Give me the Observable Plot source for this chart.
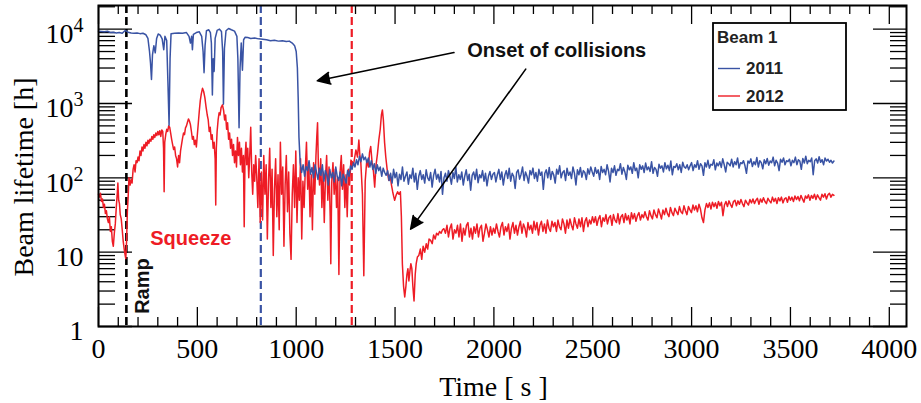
<!DOCTYPE html>
<html><head><meta charset="utf-8">
<script src="https://cdn.jsdelivr.net/npm/d3@7"></script>
<script src="https://cdn.jsdelivr.net/npm/@observablehq/plot@0.6"></script>
<style>
body{margin:0;background:#fff}
#wrap{position:relative;width:921px;height:403px}
#legend{position:absolute;left:712px;top:22px}
</style></head>
<body><div id="wrap"></div>
<script>
// ---- tick values ----
const xMajor = [0, 500, 1000, 1500, 2000, 2500, 3000, 3500, 4000];
const xMinor = [100,200,300,400,600,700,800,900,1100,1200,1300,1400,1600,1700,1800,1900,2100,2200,2300,2400,2600,2700,2800,2900,3100,3200,3300,3400,3600,3700,3800,3900];
const yMajor = [1, 10, 100, 1000, 10000];
const yMajorLabels = ["1", "10", "10^2", "10^3", "10^4"];
const yMinor = [2,3,4,5,6,7,8,9,20,30,40,50,60,70,80,90,200,300,400,500,600,700,800,900,2000,3000,4000,5000,6000,7000,8000,9000,20000];

// ---- phase markers (time in s) ----
const rampLine = [141];
const squeeze2011Line = [821];
const squeeze2012Line = [1281];

// ---- Beam 1, 2011, ramp & squeeze: [time s, lifetime h] ----
const blue2011Early = [
[0,9400],[15,9300],[30,9200],[45,9350],[60,9000],[75,9100],[90,8900],[105,9000],[120,8800],[135,9600],[150,9100],[165,8900],[180,8800],[195,8900],[210,8700],[225,8800],[240,8400],[250,7500],[258,5000],[263,3500],[268,2100],[273,4500],[280,6000],[287,4800],[294,7500],[302,8600],[312,8300],[322,7400],[330,5300],[336,8000],[345,7000],[351,2000],[357,510],[362,4000],[367,8700],[385,8800],[405,8900],[425,8800],[445,9000],[458,8000],[465,6500],[471,8000],[475,5300],[480,8500],[495,9000],[510,9200],[522,8000],[529,5000],[534,2600],[539,6000],[546,9500],[558,9800],[566,9000],[571,6500],[576,1300],[580,4000],[585,2700],[590,7500],[600,9600],[612,10000],[622,9300],[628,5000],[632,980],[637,5500],[645,9500],[658,10200],[672,9800],[688,9400],[700,8000],[705,4000],[711,470],[716,3000],[722,6500],[728,2800],[734,7200],[742,7800],[755,7700],[770,7500],[790,7600],[810,7400],[830,7300],[850,7200],[870,7000],[890,7100],[910,6900],[930,7000],[950,6800],[965,6900],[980,6500],[992,6000],[1000,5000],[1006,3000],[1010,1200],[1014,350]
];
// ---- Beam 1, 2011, after the drop: samples evenly spaced from 1020 s to 3720 s (lifetime h) ----
const blueBandStart = 1020, blueBandEnd = 3720;
const blueBand = [
160,118,150,105,142,125,170,112,138,100,150,
120,95,135,108,150,90,125,110,80,130,100,118,88,140,105,92,120,78,112,98,85,
125,105,145,130,160,140,175,150,195,165,210,175,190,
160,185,140,170,130,155,115,150,125,140,105,135,118,
108,125,92,115,85,130,100,118,78,112,95,140,90,105,120,82,110,98,135,88,115,70,105,125,95,110,85,128,100,92,118,75,108,130,96,112,88,122,60,100,115,90,125,105,82,118,98,140,88,110,95,120,80,105,128,92,112,68,108,120,95,130,86,110,100,125,90,115,78,105,122,95,112,
118,88,110,130,95,120,80,108,125,98,135,90,115,105,72,118,128,96,112,140,92,120,105,85,125,110,135,98,118,90,130,108,120,70,115,128,100,138,95,122,110,85,130,112,145,100,118,125,92,135,108,120,98,140,115,80,128,110,138,102,125,118,95,132,112,140,
120,105,138,115,128,95,142,118,130,110,150,122,88,135,118,145,108,130,125,155,112,138,120,95,148,128,140,115,160,125,135,100,150,130,145,118,158,128,140,122,165,115,138,130,105,152,135,145,120,160,132,148,125,168,110,142,138,155,128,150,118,162,140,135,150,128,
145,160,125,150,138,170,130,155,145,108,160,140,172,135,152,148,175,128,158,145,165,138,180,150,120,162,155,145,178,140,165,150,185,135,160,155,170,145,115,168,158,180,142,165,150,188,140,170,160,132,175,155,182,148,168,160,190,145,172,158,125,178,162,185,150,170,
165,178,145,172,160,190,150,175,168,130,182,158,195,155,172,165,185,110,170,180,158,192,162,175,150,185,168,178,162,172,158,168
];

// ---- Beam 1, 2012, up to 1747 s: [time s, lifetime h] ----
const red2012Early = [
[0,60],[5,55],[10,62],[15,48],[20,52],[25,40],[30,44],[35,33],[40,36],[45,28],[50,25],[55,30],[60,19],[65,22],[70,14],[75,12],[80,18],[85,24],[90,40],[95,62],[98,85],[102,50],[106,45],[110,32],[115,28],[120,20],[125,14],[130,11],[135,9],[138,8.2],[142,14],[146,35],[150,55],[154,100],[160,80],[165,95],[170,85],[175,130],[180,150],[185,120],[190,170],[195,160],[200,190],[205,170],[210,230],[215,200],[220,260],[225,230],[230,280],[235,250],[240,300],[245,270],[250,320],[255,290],[260,330],[265,310],[270,360],[275,330],[280,380],[285,350],[290,400],[295,370],[300,420],[305,380],[310,430],[315,360],[320,440],[325,420],[329,250],[332,65],[335,300],[340,380],[345,450],[350,420],[355,500],[360,480],[365,400],[370,330],[375,280],[380,240],[385,260],[390,200],[395,180],[400,140],[405,200],[410,160],[415,230],[420,280],[425,340],[430,400],[435,380],[440,470],[445,500],[450,560],[455,620],[460,580],[465,520],[470,420],[475,330],[480,360],[485,280],[490,320],[495,260],[500,380],[505,550],[510,800],[515,1100],[520,1350],[526,1600],[532,1450],[538,1200],[544,900],[550,700],[555,600],[560,420],[565,480],[570,330],[575,380],[580,250],[585,300],[590,180],[593,43],[596,250],[600,420],[605,600],[610,750],[615,700],[620,880],[627,960],[633,800],[638,600],[643,700],[648,450],[653,550],[658,330],[663,400],[668,250],[673,330],[678,200],[683,280],[688,160],[693,230],[698,140],[703,350],[708,200],[713,300],[718,150],[723,250],[728,120],[733,200],[737,22],[741,180],[746,300],[750,150],[755,250],[760,100],[765,200],[770,480],[775,120],[780,60],[785,150],[790,90],[795,200],
[800,110],[806,40],[812,180],[818,25],[824,120],[830,27],[836,200],[842,60],[848,150],[854,15],[860,90],[866,250],[872,40],[878,130],[884,9],[890,70],[896,180],[902,30],[908,110],[914,20],[920,300],[926,60],[932,140],[938,12],[944,80],[950,200],[956,35],[962,120],[968,18],[974,8],[980,60],[986,150],[992,40],[998,230],[1004,25],[1010,100],[1016,50],[1022,180],[1028,15],[1034,90],[1040,40],[1046,130],[1052,300],[1058,70],[1064,150],[1070,30],[1076,110],[1082,20],[1088,160],[1094,60],[1100,200],[1104,350],[1108,550],[1112,150],[1118,80],[1124,180],[1130,40],[1136,120],[1142,25],[1148,100],[1154,200],[1160,50],[1166,140],[1172,30],[1175,7],[1180,90],[1186,160],[1192,60],[1198,130],[1204,40],[1210,100],[1216,5],[1222,120],[1228,200],[1234,70],[1240,150],[1246,40],[1252,110],[1258,30],[1264,130],[1270,80],
[1277,173],[1290,150],[1302,237],[1310,190],[1317,323],[1322,200],[1327,158],[1335,60],[1342,4.8],[1349,90],[1357,173],[1365,140],[1371,220],[1377,264],[1384,160],[1391,120],[1397,75],[1404,150],[1411,210],[1418,323],[1425,450],[1431,700],[1436,820],[1441,600],[1447,300],[1453,192],[1460,130],[1468,93],[1475,110],[1482,80],[1488,65],[1494,55],[1498,50],[1505,58],[1513,65],[1520,60],[1527,65],[1532,30],[1537,7],[1543,3.5],[1549,2.5],
[1555,3.5],[1560,5],[1565,6],[1570,4.1],[1575,5.5],[1580,7],[1585,6],[1590,3.5],[1596,2.2],[1602,5],[1607,7],[1613,8.6],[1620,9],[1628,11],[1635,8],[1642,12],[1650,10],[1658,13],[1665,11],[1672,15],[1680,14.4],[1688,13],[1695,17],[1703,15],[1710,18],[1718,17],[1725,19],[1733,18],[1740,20],[1747,20.7]
];
// ---- Beam 1, 2012, slow recovery: samples evenly spaced from 1755 s to 3720 s (lifetime h) ----
const redBandStart = 1755, redBandEnd = 3720;
const redBand = [
18,23,16,21,24,15,20,18,23,16,24,14,21,17,23,25,16,21,15,22,18,24,16,21,23,14,18,24,20,16,22,17,21,
18,24,19,16,22,25,17,22,19,24,15,21,25,18,23,17,22,26,18,24,21,16,25,20,23,18,26,20,25,17,23,26,19,24,18,27,21,19,26,22,
25,19,27,22,20,28,24,18,27,21,28,23,20,29,24,21,28,22,29,19,26,29,22,27,24,30,
25,30,23,28,31,22,29,26,32,24,29,31,23,32,27,25,33,24,30,32,25,33,27,31,24,34,28,33,26,31,34,27,32,
29,35,30,27,36,31,28,37,32,29,38,33,28,37,32,39,33,30,40,34,31,39,35,32,41,35,33,42,36,32,41,37,34,43,37,42,35,44,38,
29,25,37,45,40,46,38,47,41,46,39,48,42,47,31,43,48,41,49,44,40,48,50,42,49,44,51,45,41,50,46,43,51,46,
52,45,50,53,44,52,47,54,48,45,53,49,46,55,48,53,45,54,49,55,46,52,54,47,56,50,
55,48,57,51,56,49,58,52,47,57,53,59,50,58,53,60,51,59,54,50,60,55,61,52,59,62,55,60,58
];

const band = (vals, t0, t1) => vals.map((v, i) => [t0 + i * (t1 - t0) / (vals.length - 1), v]);
const blue2011 = blue2011Early.concat(band(blueBand, blueBandStart, blueBandEnd));
const red2012 = red2012Early.concat(band(redBand, redBandStart, redBandEnd));

// ---- annotations ----
const arrows = [
  {x1: 1798, y1: 4840, x2: 1107, y2: 2020},
  {x1: 2161, y1: 2900, x2: 1579, y2: 20.4}
];
const onsetLabel = [{t: 2318, v: 5100, text: "Onset of collisions"}];
const squeezeLabel = [{t: 467, v: 15, text: "Squeeze"}];
const rampLabel = [{t: 224, v: 3.5, text: "Ramp"}];
const legendTitle = "Beam 1";
const seriesNames = ["2011", "2012"];
const BLUE = "#3953a4", RED = "#ee1c25";

const serif = "'Liberation Serif','Times New Roman',serif";
const sans = "'Liberation Sans',Arial,Helvetica,sans-serif";
const tk = {stroke: "#000", strokeWidth: 1.3};

const chart = Plot.plot({
  width: 921, height: 403,
  marginLeft: 98, marginRight: 15, marginTop: 5, marginBottom: 77,
  style: {fontFamily: serif, fontSize: "28px", color: "#000", background: "#fff"},
  x: {domain: [0, 4087]},
  y: {type: "log", domain: [1, 20800]},
  marks: [
    Plot.tickX(xMinor, {...tk, insetTop: 312}),
    Plot.tickX(xMajor, {...tk, insetTop: 302}),
    Plot.tickX(xMinor, {...tk, insetBottom: 312}),
    Plot.tickX(xMajor, {...tk, insetBottom: 302}),
    Plot.tickY(yMinor, {...tk, insetRight: 791}),
    Plot.tickY(yMajor, {...tk, insetRight: 774}),
    Plot.tickY(yMinor, {...tk, insetLeft: 792}),
    Plot.tickY(yMajor, {...tk, insetLeft: 775}),
    Plot.ruleX(rampLine, {stroke: "#000", strokeWidth: 2.6, strokeDasharray: "8,4"}),
    Plot.ruleX(squeeze2011Line, {stroke: BLUE, strokeWidth: 2.2, strokeDasharray: "8,4"}),
    Plot.ruleX(squeeze2012Line, {stroke: RED, strokeWidth: 2.2, strokeDasharray: "8,4"}),
    Plot.line(red2012, {x: d => d[0], y: d => d[1], stroke: RED, strokeWidth: 1.5}),
    Plot.line(blue2011, {x: d => d[0], y: d => d[1], stroke: BLUE, strokeWidth: 1.5}),
    Plot.arrow(arrows, {x1: "x1", y1: "y1", x2: "x2", y2: "y2", stroke: "#000", strokeWidth: 1.6, headLength: 13, headAngle: 50}),
    Plot.text(onsetLabel, {x: "t", y: "v", text: "text", fontFamily: sans, fontWeight: "bold", fontSize: 20, fill: "#111"}),
    Plot.text(squeezeLabel, {x: "t", y: "v", text: "text", fontFamily: sans, fontWeight: "bold", fontSize: 20, fill: RED}),
    Plot.text(rampLabel, {x: "t", y: "v", text: "text", fontFamily: sans, fontWeight: "bold", fontSize: 20, fill: "#111", rotate: -90}),
    Plot.axisX({ticks: xMajor, tickSize: 0, tickPadding: 12, tickFormat: d => String(d), label: null, fontSize: 28}),
    Plot.axisY({ticks: yMajor, tickSize: 0, tickPadding: 15, tickFormat: d => yMajorLabels[yMajor.indexOf(d)], label: null, fontSize: 28, dy: 5}),
    Plot.text(["Time [ s ]"], {frameAnchor: "bottom", textAnchor: "middle", lineAnchor: "middle", dx: -9, dy: 61, fontSize: 28}),
    Plot.text(["Beam lifetime [h]"], {frameAnchor: "left", textAnchor: "middle", lineAnchor: "middle", rotate: -90, dx: -74, dy: 11, fontSize: 28}),
    Plot.frame({stroke: "#000", strokeWidth: 2})
  ]
});

// superscript exponents on the y tick labels
chart.querySelectorAll('g[aria-label="y-axis tick label"] text').forEach(t => {
  const m = t.textContent.match(/^10\^(\d)$/);
  if (m) {
    t.textContent = "10";
    const ts = document.createElementNS("http://www.w3.org/2000/svg", "tspan");
    ts.setAttribute("dy", "-11");
    ts.setAttribute("font-size", "20");
    ts.textContent = m[1];
    t.appendChild(ts);
  }
});
// filled arrowheads
chart.querySelectorAll('g[aria-label="arrow"] path').forEach(p => p.setAttribute("fill", "#000"));

const wrap = document.getElementById("wrap");
wrap.appendChild(chart);

// legend
const NS = "http://www.w3.org/2000/svg";
const lg = document.createElementNS(NS, "svg");
lg.setAttribute("id", "legend");
lg.setAttribute("width", 136); lg.setAttribute("height", 90);
lg.innerHTML = `<rect x="1" y="1" width="133" height="87" fill="#fff" stroke="#000" stroke-width="1.8"/>
<g font-family="${sans.replace(/'/g, "")}" font-weight="bold" font-size="17" fill="#222">
<text x="5" y="21">${legendTitle}</text>
<line x1="6" x2="28" y1="46.5" y2="46.5" stroke="${BLUE}" stroke-width="1.4"/>
<text x="34" y="52">${seriesNames[0]}</text>
<line x1="6" x2="28" y1="74" y2="74" stroke="${RED}" stroke-width="1.4"/>
<text x="34" y="80">${seriesNames[1]}</text></g>`;
wrap.appendChild(lg);
</script></body></html>
